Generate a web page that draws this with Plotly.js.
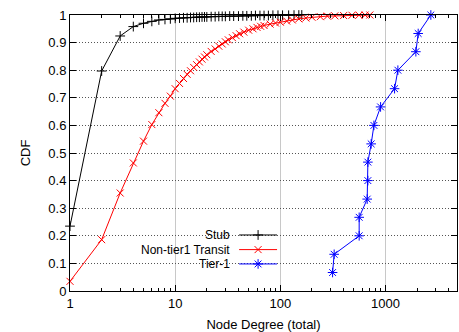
<!DOCTYPE html>
<html>
<head>
<meta charset="utf-8">
<script src="https://cdn.plot.ly/plotly-3.0.1.min.js"></script>
<style>html,body{margin:0;padding:0;background:#fff;}#chart{width:459px;height:332px;}</style>
</head>
<body>
<div id="chart"></div>
<script>
// ---- data ----
const seriesNames = ["Stub", "Non-tier1 Transit", "Tier-1"];

const stubDegree = [1,2,3,4,5,6,7,8,9,10,11,12,13,14,15,16,17,18,19,20,22,24,26,28,30,33,36,40,44,48,53,58,64,70,77,85,95,105,120,135,150,160];
const stubCdf    = [0.235,0.797,0.924,0.958,0.970,0.977,0.982,0.984,0.986,0.988,0.989,0.990,0.990,0.991,0.991,0.992,0.992,0.993,0.993,0.993,0.994,0.994,0.995,0.995,0.995,0.996,0.996,0.996,0.997,0.997,0.997,0.998,0.998,0.998,0.998,0.999,0.999,0.999,0.999,0.9995,0.9998,1.0];

const transitDegree = [1,2,3,4,5,6,7,8,9,10,11,12,13,14,15,16,17,18,19,20,22,24,26,28,30,32,35,38,41,45,50,55,60,65,70,80,90,100,115,130,150,175,200,240,280,330,400,480,560,640,710];
const transitCdf    = [0.035,0.186,0.355,0.464,0.543,0.603,0.646,0.680,0.706,0.733,0.752,0.770,0.785,0.798,0.810,0.820,0.830,0.840,0.848,0.856,0.868,0.877,0.887,0.895,0.903,0.910,0.918,0.925,0.932,0.938,0.945,0.950,0.955,0.959,0.962,0.967,0.971,0.974,0.978,0.982,0.986,0.989,0.992,0.994,0.996,0.997,0.998,0.999,0.9995,0.9998,1.0];

const tier1Degree = [314,325,562,562,670,680,680,731,776,898,1220,1312,1945,2046,2700];
const tier1Cdf    = [0.067,0.133,0.200,0.267,0.333,0.400,0.467,0.533,0.600,0.667,0.733,0.800,0.867,0.933,1.000];

const xTickVals = [1,10,100,1000];
const xTickText = ["1","10","100","1000"];
const yTickVals = [0,0.1,0.2,0.3,0.4,0.5,0.6,0.7,0.8,0.9,1];
const yTickText = ["0","0.1","0.2","0.3","0.4","0.5","0.6","0.7","0.8","0.9","1"];

// ---- styles ----
const colors = ["#000000", "#ff0000", "#0000ff"];
const symbols = ["cross-thin-open", "x-thin-open", "asterisk-open"];
const msizes = [7, 7, 8];

const series = [[stubDegree, stubCdf], [transitDegree, transitCdf], [tier1Degree, tier1Cdf]];
const traces = series.map((s, i) => ({
  x: s[0], y: s[1], type: "scatter", mode: "lines+markers", name: seriesNames[i],
  line: {color: colors[i], width: 1},
  marker: {symbol: symbols[i], size: msizes[i], color: colors[i], line: {color: colors[i], width: 1}},
  showlegend: false, cliponaxis: false
}));

const font = {family: "Liberation Sans, Arial, sans-serif", size: 13, color: "#000"};
const legFont = {family: "Liberation Sans, Arial, sans-serif", size: 12, color: "#000"};

// custom gnuplot-style legend (right-aligned text, sample at right)
const legRowY = [0.203, 0.150, 0.098];
const legX0 = 0.437, legX1 = 0.535, legXm = 0.486;
const annotations = [];
seriesNames.forEach((n, i) => {
  traces.push({
    x: [legX0, legX1], y: [legRowY[i], legRowY[i]], xaxis: "x2", yaxis: "y2",
    type: "scatter", mode: "lines", line: {color: colors[i], width: 1}, showlegend: false, hoverinfo: "skip"
  });
  traces.push({
    x: [legXm], y: [legRowY[i]], xaxis: "x2", yaxis: "y2",
    type: "scatter", mode: "markers",
    marker: {symbol: symbols[i], size: msizes[i], color: colors[i], line: {color: colors[i], width: 1}},
    showlegend: false, hoverinfo: "skip"
  });
  annotations.push({
    xref: "paper", yref: "paper", x: 0.415, y: legRowY[i], xanchor: "right", yanchor: "middle",
    text: n, showarrow: false, font: legFont, borderpad: 0
  });
});

const layout = {
  width: 459, height: 332,
  margin: {l: 70, r: 2, t: 15, b: 41, pad: 0},
  paper_bgcolor: "#fff", plot_bgcolor: "#fff",
  font: font,
  showlegend: false,
  xaxis: {
    type: "log", range: [0, 3.68],
    tickvals: xTickVals, ticktext: xTickText,
    ticks: "inside", ticklen: 6, tickcolor: "#000", tickwidth: 1,
    showline: true, linecolor: "#000", linewidth: 1, mirror: "ticks",
    showgrid: true, gridcolor: "#c8c8c8", gridwidth: 1,
    zeroline: false,
    minor: {ticks: "inside", ticklen: 3, tickcolor: "#000", showgrid: false,
            tickvals: [2,3,4,5,6,7,8,9,20,30,40,50,60,70,80,90,200,300,400,500,600,700,800,900,2000,3000,4000]},
    title: {text: "Node Degree (total)", font: font, standoff: 10},
    tickfont: font
  },
  yaxis: {
    range: [0, 1],
    tickvals: yTickVals, ticktext: yTickText,
    ticks: "inside", ticklen: 6, tickcolor: "#000",
    showline: true, linecolor: "#000", linewidth: 1, mirror: "ticks",
    showgrid: true, gridcolor: "#555", griddash: "1px,2px", gridwidth: 1,
    zeroline: false,
    title: {text: "CDF", font: font, standoff: 14},
    tickfont: font
  },
  xaxis2: {overlaying: "x", range: [0, 1], visible: false, fixedrange: true},
  yaxis2: {overlaying: "y", range: [0, 1], visible: false, fixedrange: true},
  shapes: [{
    type: "rect", xref: "paper", yref: "paper", x0: 0.065, x1: 0.55, y0: 0.07, y1: 0.232,
    fillcolor: "#fff", line: {width: 0}, layer: "between"
  }],
  annotations: annotations
};

Plotly.newPlot("chart", traces, layout, {staticPlot: true, displayModeBar: false});
</script>
</body>
</html>
